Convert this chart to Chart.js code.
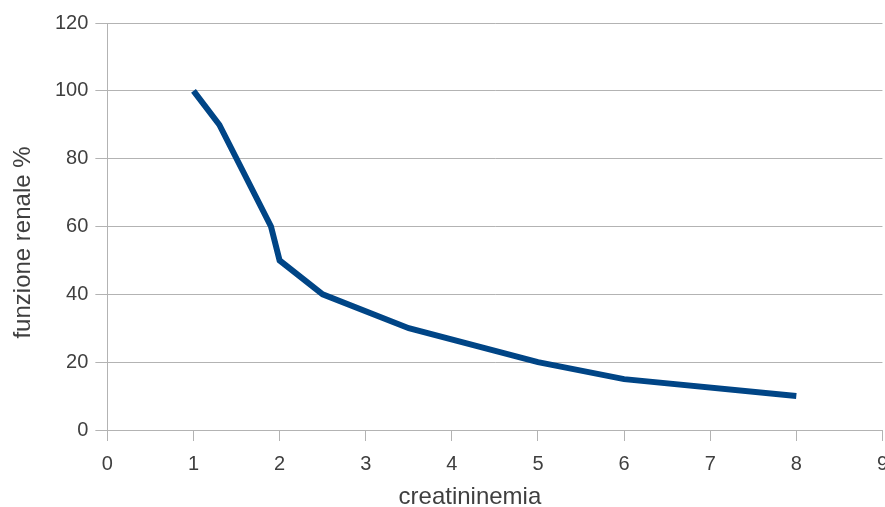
<!DOCTYPE html>
<html>
<head>
<meta charset="utf-8">
<script src="https://cdn.jsdelivr.net/npm/chart.js@4/dist/chart.umd.min.js"></script>
<style>
  html, body { margin: 0; padding: 0; background: #fff; overflow: hidden; }
  #wrap { position: relative; width: 899px; height: 507px; }
</style>
</head>
<body>
<div id="wrap"><canvas id="c"></canvas></div>
<script>
// creatininemia (mg/dl) vs residual kidney function (%)
const creatinine = [1, 1.3, 1.9, 2, 2.5, 3.5, 5, 6, 8];
const renalFunction = [100, 90, 60, 50, 40, 30, 20, 15, 10];
const xTicks = [0, 1, 2, 3, 4, 5, 6, 7, 8, 9];
const yTicks = [0, 20, 40, 60, 80, 100, 120];
const xTitle = 'creatininemia';
const yTitle = 'funzione renale %';

const points = creatinine.map((x, i) => ({ x: x, y: renalFunction[i] }));
const textColor = '#3f3f3f';
const gridColor = '#b3b3b3';
const family = '"Liberation Sans", Arial, sans-serif';
const tickFont = { family: family, size: 20 };

// axis titles, placed a little off-centre from the plot area
const axisTitles = {
  id: 'axisTitles',
  afterDraw(chart) {
    const { ctx, chartArea: a } = chart;
    ctx.save();
    ctx.fillStyle = textColor;
    ctx.font = '24px ' + family;
    ctx.textAlign = 'center';
    ctx.textBaseline = 'middle';
    ctx.fillText(xTitle, (a.left + a.right) / 2 - 25, a.bottom + 67);
    ctx.translate(a.left - 84, (a.top + a.bottom) / 2 + 16);
    ctx.rotate(-Math.PI / 2);
    ctx.fillText(yTitle, 0, 0);
    ctx.restore();
  }
};

new Chart(document.getElementById('c'), {
  type: 'scatter',
  data: {
    datasets: [{
      data: points,
      showLine: true,
      borderColor: '#004586',
      backgroundColor: '#004586',
      borderWidth: 6,
      pointRadius: 0,
      tension: 0
    }]
  },
  plugins: [axisTitles],
  options: {
    responsive: true,
    maintainAspectRatio: false,
    animation: false,
    layout: { padding: { left: 48, top: 23, right: 0, bottom: 20 } },
    plugins: { legend: { display: false }, tooltip: { enabled: false } },
    scales: {
      x: {
        type: 'linear',
        min: 0, max: 9,
        afterBuildTicks: s => { s.ticks = xTicks.map(v => ({ value: v })); },
        ticks: { color: textColor, font: tickFont, padding: 11 },
        grid: { display: true, drawOnChartArea: false, color: gridColor, tickLength: 11 },
        border: { color: gridColor, width: 1 }
      },
      y: {
        type: 'linear',
        min: 0, max: 120,
        afterBuildTicks: s => { s.ticks = yTicks.map(v => ({ value: v })); },
        ticks: { color: textColor, font: tickFont, padding: 7 },
        grid: { color: gridColor, tickLength: 12 },
        border: { color: gridColor, width: 1 }
      }
    }
  }
});
</script>
</body>
</html>
